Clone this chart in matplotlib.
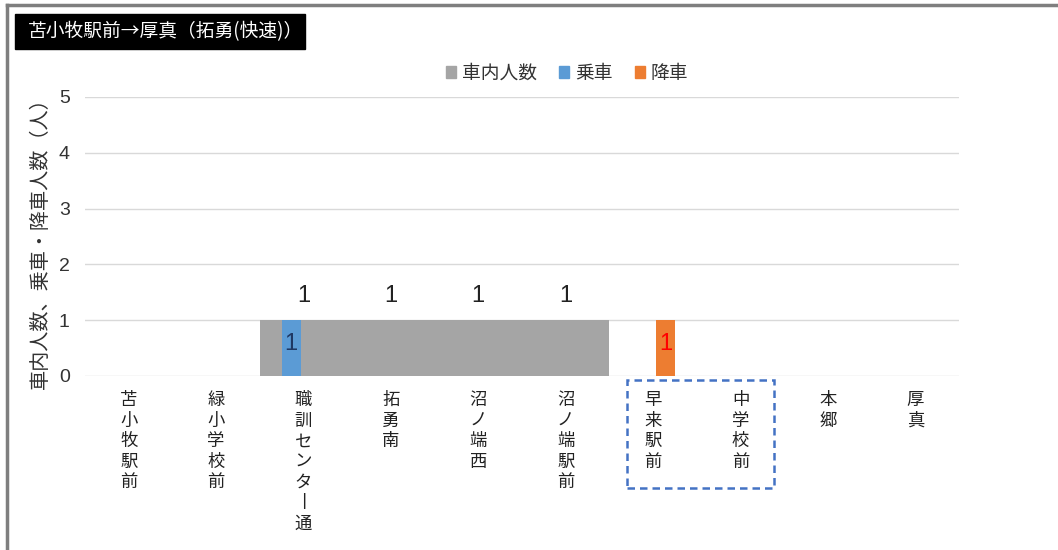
import matplotlib
matplotlib.use("Agg")
import matplotlib.pyplot as plt
from matplotlib.patches import Rectangle, Patch
from matplotlib.lines import Line2D
import numpy as np

plt.rcParams['font.family'] = ['Noto Sans CJK JP', 'DejaVu Sans']
NUM_FONT = ['Liberation Sans', 'DejaVu Sans']

title = "苫小牧駅前→厚真（拓勇(快速)）"
stops = ["苫小牧駅前", "緑小学校前", "職訓センター通", "拓勇南", "沼ノ端西",
         "沼ノ端駅前", "早来駅前", "中学校前", "本郷", "厚真"]
onboard = [0, 0, 1, 1, 1, 1, 0, 0, 0, 0]     # 車内人数
boarding = [0, 0, 1, 0, 0, 0, 0, 0, 0, 0]    # 乗車
alighting = [0, 0, 0, 0, 0, 0, 1, 0, 0, 0]   # 降車
series_names = ["車内人数", "乗車", "降車"]
y_label = "車内人数、乗車・降車人数（人）"

C_GRAY = "#a5a5a5"
C_BLUE = "#5b9bd5"
C_ORANGE = "#ed7d31"

W, H = 1058, 550
fig = plt.figure(figsize=(W / 100, H / 100), dpi=100)
ax = fig.add_axes([85 / W, (H - 376) / H, (959 - 85) / W, (376 - 97) / H])

x = np.arange(len(stops))
ax.bar(x, onboard, width=1.0, color=C_GRAY, zorder=2)
ax.bar(x - 0.14, boarding, width=0.22, color=C_BLUE, zorder=3)
ax.bar(x + 0.14, alighting, width=0.22, color=C_ORANGE, zorder=3)

for xi, v in zip(x, onboard):
    if v:
        ax.text(xi, v + 0.24, str(v), ha="center", va="bottom", fontsize=17,
                color="#222222", family=NUM_FONT)
for xi, v in zip(x, boarding):
    if v:
        ax.text(xi - 0.14, v / 2 + 0.08, str(v), ha="center", va="center", fontsize=17,
                color="#1f3864", zorder=4, family=NUM_FONT)
for xi, v in zip(x, alighting):
    if v:
        ax.text(xi + 0.14, v / 2 + 0.08, str(v), ha="center", va="center", fontsize=17,
                color="#ff0000", zorder=4, family=NUM_FONT)

ax.set_xlim(-0.5, len(stops) - 0.5)
ax.set_ylim(0, 5)
ax.set_yticks(range(0, 6))
ax.tick_params(axis="y", length=0, labelsize=14, pad=11, labelcolor="#333333")
for lab in ax.get_yticklabels():
    lab.set_family(NUM_FONT)
ax.grid(axis="y", color="#d9d9d9", linewidth=1.0, zorder=0)
for s in ax.spines.values():
    s.set_visible(False)

# vertical (stacked) category labels
def vertical(s):
    return "\n".join("丨" if ch == "ー" else ch for ch in s)

ax.set_xticks(x)
ax.set_xticklabels([vertical(s) for s in stops], fontsize=12.5, linespacing=1.18,
                   va="top", color="#222222")
ax.tick_params(axis="x", length=0, pad=11)

fig.text(40 / W, 1 - 238 / H, y_label, rotation=90, ha="center", va="center",
         fontsize=14.5, color="#333333")

# legend
handles = [Patch(color=c) for c in (C_GRAY, C_BLUE, C_ORANGE)]
fig.legend(handles, series_names, loc="center", bbox_to_anchor=(567 / W, 1 - 73 / H),
           ncol=3, frameon=False, fontsize=13.5, handlelength=0.55, handleheight=0.55,
           handletextpad=0.3, columnspacing=1.2, labelcolor="#333333")

# title box
fig.patches.append(Rectangle((15 / W, 1 - 49 / H), 290 / W, 35 / H,
                             transform=fig.transFigure, color="black", zorder=5))
fig.text(28 / W, 1 - 31.5 / H, title, color="white", fontsize=13.5, ha="left",
         va="center", zorder=6)

# dashed frame around two stops
fig.patches.append(Rectangle((627 / W, 1 - 488 / H), 147 / W, 108 / H,
                             transform=fig.transFigure, fill=False, edgecolor="#4472c4",
                             linestyle=(0, (3, 2)), linewidth=1.8, zorder=5))

# outer frame edges
fig.add_artist(Line2D([7 / W, 1.0], [1 - 5 / H, 1 - 5 / H], color="#7f7f7f", linewidth=2.5,
                      transform=fig.transFigure))
fig.add_artist(Line2D([7 / W, 7 / W], [0, 1 - 5 / H], color="#7f7f7f", linewidth=2.5,
                      transform=fig.transFigure))

fig.savefig("out.png", dpi=100)
